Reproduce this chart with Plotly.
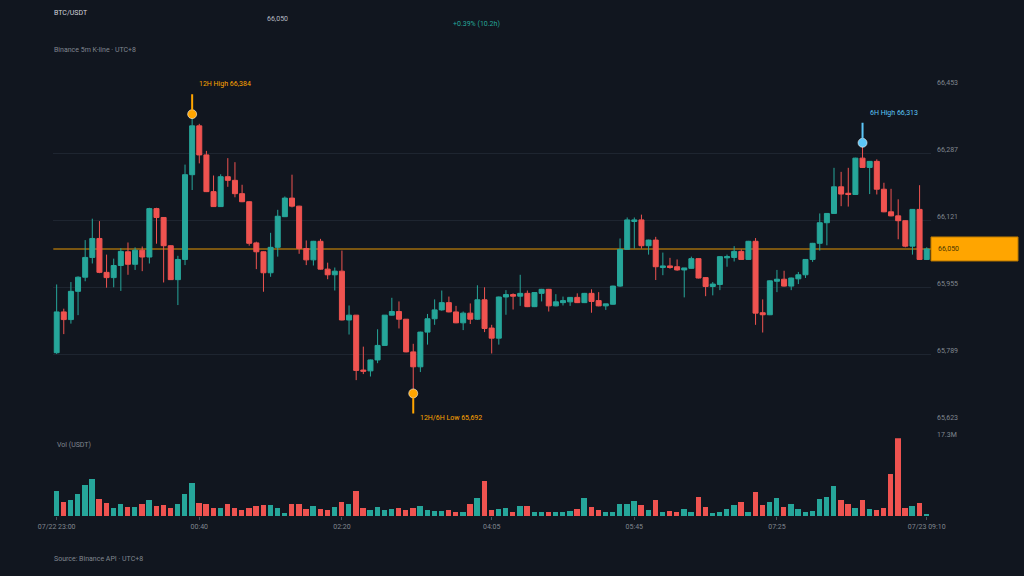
import plotly.graph_objects as go

# ---------------- data ----------------
symbol = "BTC/USDT"
subtitle = "Binance 5m K-line · UTC+8"
source_note = "Source: Binance API · UTC+8"
last_price = 66050
last_price_label = "66,050"
change_label = "+0.39% (10.2h)"

opens = [65793, 65894, 65875, 65945, 65980, 66029, 66076, 65992, 65979, 66009,
         66043, 66012, 66047, 66030, 66150, 66128, 66058, 65974, 66024, 66234,
         66355, 66283, 66192, 66155, 66229, 66220, 66187, 66167, 66065, 66043,
         65991, 66054, 66130, 66176, 66156, 66051, 66023, 66069, 66000, 65986,
         65995, 65874, 65886, 65750, 65748, 65775, 65811, 65886, 65895, 65876,
         65795, 65758, 65844, 65877, 65899, 65917, 65894, 65867, 65891, 65876,
         65924, 65854, 65829, 65931, 65937, 65933, 65940, 65907, 65940, 65950,
         65909, 65917, 65919, 65930, 65917, 65940, 65922, 65909, 65913, 65958,
         66049, 66118, 66122, 66058, 66072, 66004, 66008, 66006, 65998, 66002,
         66026, 65979, 65957, 65962, 66028, 66029, 66044, 66024, 66069, 65892,
         65887, 65970, 65975, 65958, 65976, 65986, 66024, 66064, 66115, 66138,
         66204, 66188, 66185, 66275, 66252, 66267, 66198, 66142, 66132, 66120,
         66057, 66148, 66024]
highs = [65962, 65902, 65968, 65982, 66072, 66125, 66119, 66036, 66026, 66052,
         66066, 66054, 66056, 66152, 66152, 66129, 66059, 66033, 66259, 66384,
         66360, 66293, 66232, 66235, 66275, 66265, 66209, 66168, 66068, 66044,
         66090, 66147, 66180, 66234, 66157, 66071, 66070, 66075, 66016, 66004,
         66046, 65910, 65886, 65808, 65776, 65851, 65886, 65929, 65920, 65876,
         65815, 65845, 65889, 65925, 65947, 65932, 65909, 65895, 65915, 65960,
         65955, 65862, 65932, 65948, 65940, 65986, 65947, 65943, 65951, 65951,
         65938, 65932, 65931, 65940, 65941, 65950, 65943, 65914, 65959, 66076,
         66128, 66128, 66135, 66073, 66080, 66041, 66028, 66024, 66003, 66031,
         66027, 65980, 65968, 66032, 66036, 66057, 66049, 66070, 66077, 65925,
         65972, 65998, 65996, 65979, 65993, 66025, 66065, 66138, 66139, 66251,
         66241, 66251, 66276, 66313, 66268, 66272, 66214, 66199, 66173, 66121,
         66149, 66208, 66054]
lows = [65790, 65839, 65865, 65886, 65970, 66014, 65990, 65954, 65955, 65946,
        65986, 65998, 65995, 66014, 66063, 65967, 65973, 65911, 66010, 66196,
        66262, 66191, 66154, 66154, 66204, 66178, 66166, 66058, 66000, 65944,
        65981, 66031, 66129, 66153, 66038, 66010, 66009, 65999, 65975, 65947,
        65873, 65838, 65725, 65740, 65734, 65767, 65810, 65885, 65853, 65794,
        65692, 65745, 65813, 65862, 65897, 65893, 65866, 65849, 65864, 65874,
        65844, 65791, 65813, 65887, 65900, 65909, 65906, 65906, 65920, 65895,
        65908, 65910, 65909, 65916, 65916, 65892, 65908, 65899, 65912, 65956,
        66049, 66051, 66051, 66036, 65973, 65985, 66001, 65996, 65930, 66001,
        65977, 65933, 65935, 65948, 66006, 66019, 66023, 66023, 65862, 65843,
        65886, 65943, 65957, 65948, 65963, 65978, 66018, 66046, 66059, 66137,
        66156, 66155, 66184, 66251, 66186, 66185, 66141, 66131, 66074, 66054,
        66036, 66023, 66023]
closes = [65894, 65875, 65945, 65980, 66029, 66076, 65992, 65979, 66009, 66044,
          66012, 66047, 66030, 66150, 66128, 66058, 65974, 66024, 66234, 66355,
          66283, 66192, 66155, 66229, 66220, 66187, 66167, 66064, 66043, 65991,
          66054, 66131, 66176, 66156, 66051, 66023, 66069, 66000, 65986, 65995,
          65874, 65886, 65749, 65747, 65775, 65811, 65886, 65895, 65876, 65795,
          65758, 65844, 65877, 65899, 65917, 65894, 65867, 65891, 65876, 65924,
          65853, 65829, 65931, 65937, 65933, 65940, 65907, 65942, 65950, 65909,
          65919, 65922, 65930, 65917, 65940, 65920, 65909, 65914, 65958, 66049,
          66122, 66122, 66058, 66072, 66006, 66008, 66004, 65998, 66003, 66026,
          65978, 65957, 65963, 66031, 66031, 66044, 66024, 66069, 65891, 65887,
          65971, 65975, 65958, 65978, 65986, 66024, 66064, 66115, 66138, 66204,
          66186, 66185, 66275, 66252, 66267, 66198, 66142, 66132, 66120, 66057,
          66148, 66024, 66050]
volumes_m = [5.54, 3.18, 3.47, 4.81, 6.88, 8.21, 3.77, 2.88, 1.85, 2.59,
             2.00, 2.00, 2.59, 3.62, 2.29, 2.44, 1.70, 2.59, 4.95, 7.32,
             2.88, 2.74, 1.85, 1.70, 2.59, 1.70, 1.40, 1.70, 2.14, 2.44,
             2.44, 1.85, 0.67, 2.59, 2.59, 1.55, 2.29, 1.55, 1.40, 2.00,
             3.03, 2.59, 5.54, 1.85, 1.40, 2.00, 1.26, 1.55, 1.85, 1.26,
             1.85, 2.14, 1.26, 1.11, 1.11, 1.26, 0.96, 0.96, 2.59, 4.07,
             7.76, 1.40, 1.55, 1.85, 0.81, 2.14, 2.14, 0.96, 0.81, 0.81,
             0.81, 0.81, 1.11, 1.55, 4.07, 2.00, 1.40, 0.81, 0.81, 2.74,
             2.74, 3.33, 2.44, 1.40, 3.47, 0.96, 1.11, 0.96, 1.55, 0.81,
             4.21, 2.00, 0.67, 0.81, 1.55, 2.44, 3.03, 0.96, 5.25, 2.44,
             3.03, 3.92, 2.00, 2.74, 1.55, 0.96, 1.11, 3.77, 4.21, 6.58,
             3.62, 2.74, 1.85, 3.47, 1.55, 1.26, 1.70, 9.24, 17.30, 1.85,
             2.14, 2.88, 0.52]

time_tick_index = [0, 20, 40, 61, 81, 101, 122]
time_tick_labels = ["07/22 23:00", "00:40", "02:20", "04:05", "05:45", "07:25", "07/23 09:10"]
price_ticks = [65623, 65789, 65955, 66121, 66287, 66453]
price_tick_labels = ["65,623", "65,789", "65,955", "66,121", "66,287", "66,453"]
volume_max_m = 17.3
volume_tick_label = "17.3M"

# marked extremes: (candle index, price, label, kind)
marker_idx = [19, 113, 50]
marker_price = [66384, 66313, 65692]
marker_text = ["12H High 66,384", "6H High 66,313", "12H/6H Low 65,692"]
marker_kind = ["high", "high", "low"]

# ---------------- style ----------------
BG = "#11161f"
GRID = "#1e2530"
TXT = "#80868f"
GREEN = "#26a69a"
RED = "#ef5350"
ORANGE = "#ffa500"
BLUE = "#5cc6f7"
FONT = "Roboto"

W, H = 1024, 576
XD = [53.3 / W, 931 / W]
PRICE_DOM = [1 - 421.3 / H, 1 - 86.3 / H]
VOL_DOM = [1 - 516.3 / H, 1 - 438.3 / H]
XR = [-0.47, 122.6]

x = list(range(len(opens)))
vol_colors = [GREEN if c >= o else RED for o, c in zip(opens, closes)]
marker_colors = [ORANGE, BLUE, ORANGE]

fig = go.Figure()
fig.add_trace(go.Candlestick(
    x=x, open=opens, high=highs, low=lows, close=closes,
    increasing=dict(line=dict(color=GREEN, width=1), fillcolor=GREEN),
    decreasing=dict(line=dict(color=RED, width=1), fillcolor=RED),
    whiskerwidth=0, hoverinfo="skip", xaxis="x", yaxis="y"))
fig.add_trace(go.Bar(
    x=x, y=[v * 1e6 for v in volumes_m], width=0.75,
    marker=dict(color=vol_colors, line=dict(width=0)),
    hoverinfo="skip", xaxis="x2", yaxis="y2"))

shapes = [
    dict(type="line", xref="paper", yref="y", x0=XD[0], x1=XD[1],
         y0=last_price, y1=last_price, layer="between",
         line=dict(color="rgba(255,165,0,0.6)", width=1.5)),
    dict(type="rect", xref="paper", yref="y", x0=XD[1], x1=1018 / W,
         ysizemode="pixel", yanchor=last_price, y0=-12, y1=12,
         fillcolor=ORANGE, line=dict(color="#b97800", width=1), layer="above"),
]
annotations = []
for i, p, t, k, col in zip(marker_idx, marker_price, marker_text, marker_kind, marker_colors):
    sgn = 1 if k == "high" else -1
    shapes.append(dict(type="line", xref="x", yref="y", x0=i, x1=i,
                       ysizemode="pixel", yanchor=p, y0=sgn * 4, y1=sgn * 20,
                       line=dict(color=col, width=2), layer="above"))
    annotations.append(dict(x=i, y=p, xref="x", yref="y", text=t, showarrow=False,
                            xanchor="left", yanchor="middle", xshift=5,
                            yshift=30 if k == "high" else -25,
                            font=dict(color=col, size=7, family=FONT)))

fig.add_trace(go.Scatter(
    x=marker_idx, y=marker_price, mode="markers", hoverinfo="skip",
    marker=dict(size=9, color=marker_colors, line=dict(color="rgba(255,255,255,0.55)", width=1)),
    xaxis="x", yaxis="y"))

def ptext(txt, px, py, color, size=7):
    annotations.append(dict(x=px / W, y=1 - py / H, xref="paper", yref="paper",
                            text=txt, showarrow=False, xanchor="left", yanchor="middle",
                            font=dict(color=color, size=size, family=FONT)))

ptext(symbol, 52, 13, "#d1d4dc")
ptext(last_price_label, 265, 19.5, "#b6bac2")
ptext(change_label, 451, 24.5, GREEN)
ptext(subtitle, 52, 50, TXT)
ptext(source_note, 52, 559, TXT)
ptext("Vol (USDT)", 55, 445, TXT)
annotations.append(dict(x=936 / W, y=last_price, xref="paper", yref="y", text=last_price_label,
                        showarrow=False, xanchor="left", yanchor="middle",
                        font=dict(color="#4a3500", size=7, family=FONT)))

fig.update_layout(
    template="none",
    width=W, height=H, autosize=False,
    margin=dict(l=0, r=0, t=0, b=0, pad=0, autoexpand=False),
    paper_bgcolor=BG, plot_bgcolor=BG, showlegend=False,
    boxgap=0.3, boxgroupgap=0, bargap=0,
    font=dict(family=FONT, size=7, color=TXT),
    xaxis=dict(domain=XD, range=XR, anchor="y", showticklabels=False, showgrid=False,
               zeroline=False, showline=False, ticks="", rangeslider=dict(visible=False),
               fixedrange=True, automargin=False),
    yaxis=dict(domain=PRICE_DOM, range=[price_ticks[0], price_ticks[-1]], side="right",
               tickvals=price_ticks, ticktext=price_tick_labels, gridcolor=GRID, gridwidth=1,
               zeroline=False, showline=False, ticks="", ticklabelstandoff=5, ticklabelshift=-4,
               tickfont=dict(size=7, color=TXT), fixedrange=True, automargin=False),
    xaxis2=dict(domain=XD, range=XR, anchor="y2", tickvals=time_tick_index, ticktext=time_tick_labels,
                ticks="outside", ticklen=3, tickcolor="#4a515c", tickwidth=1, showgrid=False,
                zeroline=False, showline=False, tickfont=dict(size=7, color=TXT), fixedrange=True,
                automargin=False),
    yaxis2=dict(domain=VOL_DOM, range=[0, volume_max_m * 1e6], side="right",
                tickvals=[volume_max_m * 1e6], ticktext=[volume_tick_label], gridcolor=GRID,
                zeroline=False, showline=False, ticks="", ticklabelstandoff=5, ticklabelshift=-4,
                tickfont=dict(size=7, color=TXT), fixedrange=True, automargin=False),
    shapes=shapes, annotations=annotations,
)

fig.write_html("out.html", config=dict(displayModeBar=False))
